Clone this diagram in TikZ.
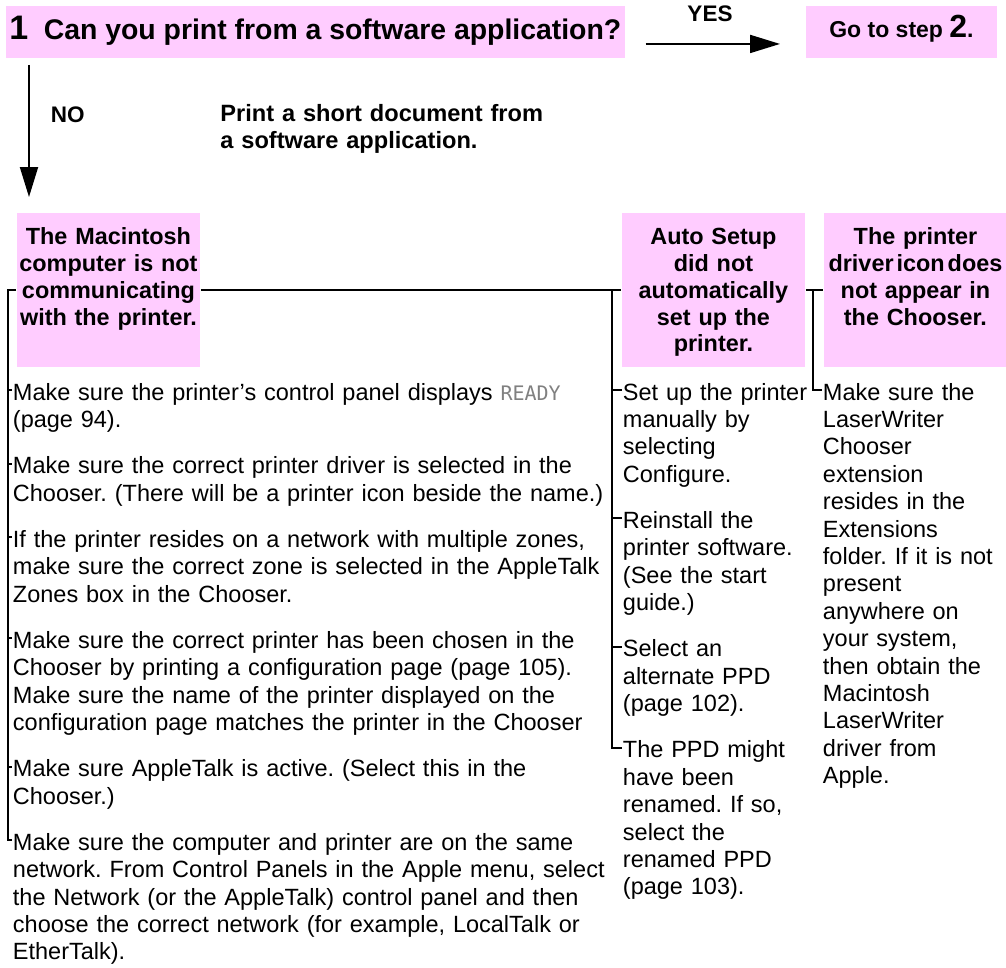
\documentclass[tikz,border=0pt]{standalone}
\usepackage{fontspec}
\setmainfont{Liberation Sans}
\newfontfamily\lcdfont{DejaVu Sans Mono}
\usetikzlibrary{arrows.meta,positioning,calc}
\definecolor{notepink}{RGB}{255,204,255}
\newcommand{\panelmsg}[1]{{\lcdfont\fontsize{20}{20}\selectfont\color{black!50}#1}}
\frenchspacing
\tikzset{every picture/.style={line width=1.9pt}}
\tikzset{
    pinkbox/.style={fill=notepink, inner sep=0pt},
    headbox/.style={pinkbox, anchor=north west, text width=183pt, align=center,
        text height=32pt, text depth=122pt, font=\bfseries\fontsize{23.4}{26.7}\selectfont},
    itemtext/.style={anchor=base west, inner sep=0pt, text width=#1, align=left,
        font=\fontsize{23.5}{27.4}\selectfont},
    answer/.style={inner sep=0pt, font=\bfseries\fontsize{22.5}{22.5}\selectfont},
    arr/.style={-{Triangle[length=30pt,width=18pt]}}
}

\begin{document}
\begin{tikzpicture}[x=1pt,y=-1pt]
    \useasboundingbox (0,0) rectangle (1006,967);
    \node[pinkbox, anchor=north west, inner xsep=3.5pt, text height=34pt, text depth=18pt,
        font=\bfseries\fontsize{28.4}{30}\selectfont] (q1) at (5,5)
        {{\fontsize{34}{34}\selectfont 1}\hspace{15.4pt}Can you print from a software application?};
    \node[pinkbox, anchor=north west, minimum width=191pt, text height=32pt, text depth=20pt,
        font=\bfseries\fontsize{23}{25}\selectfont] (go) at (805,5)
        {Go to step {\fontsize{32}{32}\selectfont 2}.};
    \node[answer, anchor=base] (yes) at (710,21) {YES};
    \node[answer, anchor=base west] (no) at (50,122) {NO};
    \node[itemtext=400pt, font=\bfseries\fontsize{23.6}{27}\selectfont] (retry) at (219.5,121)
        {Print a short document from\\a software application.};
    \draw[arr] ([xshift=20pt,yshift=-12pt]q1.east) -- ([xshift=-25pt,yshift=-12pt]go.west);

    \node[headbox] (mac) at (16,212) {The Macintosh\\computer is not\\communicating\\with the printer.};
    \node[headbox] (auto) at (621,212) {Auto Setup\\did not\\automatically\\set up the\\printer.};
    \node[headbox] (drv) at (823,212) {The printer\\driver\hspace{3pt}icon\hspace{3pt}does\\not appear in\\the Chooser.};
    \draw[arr] ([xshift=24pt,yshift=-6pt]q1.south west) -- ([xshift=13pt,yshift=15pt]mac.north west);

    \node[itemtext=650pt] (l1) at (12,400)
        {Make sure the printer’s control panel displays \panelmsg{READY}\\(page 94).};
    \node[itemtext=650pt] (l2) at (12,473.6)
        {Make sure the correct printer driver is selected in the\\Chooser. (There will be a printer icon beside the name.)};
    \node[itemtext=650pt] (l3) at (12,547.2)
        {If the printer resides on a network with multiple zones,\\make sure the correct zone is selected in the AppleTalk\\Zones box in the Chooser.};
    \node[itemtext=650pt] (l4) at (12,648.2)
        {Make sure the correct printer has been chosen in the\\Chooser by printing a configuration page (page 105).\\Make sure the name of the printer displayed on the\\configuration page matches the printer in the Chooser};
    \node[itemtext=650pt] (l5) at (12,776.6)
        {Make sure AppleTalk is active. (Select this in the\\Chooser.)};
    \node[itemtext=650pt] (l6) at (12,850.2)
        {Make sure the computer and printer are on the same\\network. From Control Panels in the Apple menu, select\\the Network (or the AppleTalk) control panel and then\\choose the correct network (for example, LocalTalk or\\EtherTalk).};

    \node[itemtext=220pt] (m1) at (622,400) {Set up the printer\\manually by\\selecting\\Configure.};
    \node[itemtext=220pt] (m2) at (622,528.4) {Reinstall the\\printer software.\\(See the start\\guide.)};
    \node[itemtext=220pt] (m3) at (622,656.8) {Select an\\alternate PPD\\(page 102).};
    \node[itemtext=220pt] (m4) at (622,757.8) {The PPD might\\have been\\renamed. If so,\\select the\\renamed PPD\\(page 103).};

    \node[itemtext=220pt] (r1) at (822,400)
        {Make sure the\\LaserWriter\\Chooser\\extension\\resides in the\\Extensions\\folder. If it is not\\present\\anywhere on\\your system,\\then obtain the\\Macintosh\\LaserWriter\\driver from\\Apple.};

    \foreach \i in {1,...,6} \coordinate (t\i) at ([yshift=10pt]l\i.base west);
    \foreach \i in {1,...,4} \coordinate (s\i) at ([yshift=10pt]m\i.base west);
    \coordinate (u1) at ([yshift=10pt]r1.base west);

    \draw (mac.west) -- ++(-8,0) coordinate (lbar) |- (t6);
    \foreach \i in {1,...,5} \draw (lbar |- t\i) -- (t\i);
    \draw (mac.east) -- (auto.west);
    \draw ([xshift=-9pt]auto.west) coordinate (mbar) |- (s4);
    \foreach \i in {1,2,3} \draw (mbar |- s\i) -- (s\i);
    \draw (auto.east) -- (drv.west);
    \draw ([xshift=-10pt]drv.west) |- (u1);
\end{tikzpicture}
\end{document}
